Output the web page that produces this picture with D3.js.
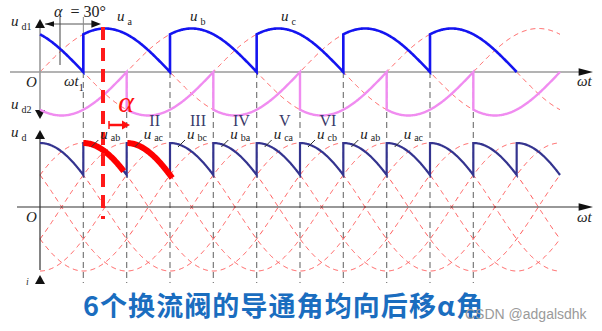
<!DOCTYPE html>
<html><head><meta charset="utf-8">
<script src="https://cdn.jsdelivr.net/npm/d3@7"></script>
<style>body{margin:0;background:#fff}svg{display:block}</style>
</head><body>
<script>
// ---- data (angles in degrees, values normalised to peak = 1) ----
const thetaDomain = [0, 720];
const alphaDeg = 30;
// phase voltages u_a, u_b, u_c : phase shift of each sinusoid
const phaseNames = ["a", "b", "c"];
const phaseShifts = [0, -120, 120];
// line voltages : phase shift of each sinusoid
const lineNames = ["ab", "ac", "bc", "ba", "ca", "cb"];
const lineShifts = [30, -30, -90, -150, 150, 90];
// positive group u_d1 : conducting phase and interval
const posOrder = ["c", "a", "b", "c", "a", "b"];
const posStart = [0, 60, 180, 300, 420, 540];
const posEnd   = [60, 180, 300, 420, 540, 660];
// negative group u_d2
const negOrder = ["b", "c", "a", "b", "c", "a"];
const negStart = [0, 120, 240, 360, 480, 600];
const negEnd   = [120, 240, 360, 480, 600, 720];
// bridge output u_d
const udOrder = ["cb","ab","ac","bc","ba","ca","cb","ab","ac","bc","ba","ca"];
const udStart = [0,60,120,180,240,300,360,420,480,540,600,660];
const udEnd   = [60,120,180,240,300,360,420,480,540,600,660,720];
// commutation instants (dashed guides)
const guideAngles = [60,120,180,240,300,360,420,480,540,600];
// highlighted (shifted) conduction arcs
const hiOrder = ["ab", "ac"];
const hiStart = [60, 121];
const hiEnd   = [116, 183];
// segment labels in the u_d panel
const segLabelSub   = ["ab","ac","bc","ba","ca","cb","ab","ac"];
const segLabelAngle = [60,120,180,240,300,360,420,480];
const romanNums   = ["II","III","IV","V","VI"];
const romanAngles = [120,180,240,300,360];
// top labels
const topLabelSub = ["a","b","c"];
const topLabelX   = [117,190,281];
const title = "6个换流阀的导通角均向后移α角";
const watermark = "CSDN @adgalsdhk";

// ---- drawing ----
const W = 602, H = 331;
const svg = d3.select("body").append("svg").attr("width", W).attr("height", H);
const rad = d => d * Math.PI / 180;
const x = d3.scaleLinear().domain(thetaDomain).range([40, 560]);
const yT = d3.scaleLinear().domain([-1, 1]).range([115.5, 28.5]);
const yB = d3.scaleLinear().domain([-1, 1]).range([271, 143]);
const phaseShift = Object.fromEntries(phaseNames.map((n, i) => [n, phaseShifts[i]]));
const lineShift = Object.fromEntries(lineNames.map((n, i) => [n, lineShifts[i]]));
const samples = (a, b) => { const s = d3.range(a, b, 1); s.push(b); return s; };
const line = d3.line();

function segPath(order, starts, ends, shiftMap, ys) {
  const pts = [];
  order.forEach((n, i) => {
    samples(starts[i], ends[i]).forEach(t => pts.push([x(t), ys(Math.sin(rad(t + shiftMap[n])))]));
  });
  return line(pts);
}

// red dashed reference sinusoids
phaseNames.forEach(n => {
  svg.append("path").attr("d", line(samples(0, 720).map(t => [x(t), yT(Math.sin(rad(t + phaseShift[n])))])))
    .attr("fill", "none").attr("stroke", "#ff5a5a").attr("stroke-width", 1).attr("stroke-dasharray", "5,4");
});
lineNames.forEach(n => {
  svg.append("path").attr("d", line(samples(0, 720).map(t => [x(t), yB(Math.sin(rad(t + lineShift[n])))])))
    .attr("fill", "none").attr("stroke", "#ff5a5a").attr("stroke-width", 1).attr("stroke-dasharray", "5,4");
});

// dashed guides
svg.selectAll(".guide").data(guideAngles).enter().append("line")
  .attr("x1", d => x(d)).attr("x2", d => x(d)).attr("y1", yT(0)).attr("y2", 283)
  .attr("stroke", "#7a7a7a").attr("stroke-width", 1.2).attr("stroke-dasharray", "6,4");

// axes
const tri = (cx, cy, dir, s = 5, h = 9) => {
  if (dir === "up") return `M${cx},${cy} L${cx - s},${cy + h} L${cx + s},${cy + h}Z`;
  if (dir === "down") return `M${cx},${cy} L${cx - s},${cy - h} L${cx + s},${cy - h}Z`;
  if (dir === "right") return `M${cx},${cy} L${cx - h * 1.6},${cy - s * 0.75} L${cx - h * 1.6},${cy + s * 0.75}Z`;
  return `M${cx},${cy} L${cx + h},${cy - s * 0.7} L${cx + h},${cy + s * 0.7}Z`;
};
// top
svg.append("line").attr("x1", 10).attr("x2", 580).attr("y1", yT(0)).attr("y2", yT(0)).attr("stroke", "#9a9a9a").attr("stroke-width", 1.6);
svg.append("path").attr("d", tri(593, yT(0), "right")).attr("fill", "#111");
svg.append("line").attr("x1", 40).attr("x2", 40).attr("y1", 24).attr("y2", 112).attr("stroke", "#9a9a9a").attr("stroke-width", 1.6);
svg.append("path").attr("d", tri(40, 19, "up")).attr("fill", "#111");
svg.append("path").attr("d", tri(40, 119, "down")).attr("fill", "#111");
// bottom
svg.append("line").attr("x1", 17).attr("x2", 580).attr("y1", yB(0)).attr("y2", yB(0)).attr("stroke", "#333").attr("stroke-width", 1.2);
svg.append("path").attr("d", tri(593, yB(0), "right")).attr("fill", "#111");
svg.append("line").attr("x1", 40).attr("x2", 40).attr("y1", 134).attr("y2", 270).attr("stroke", "#333").attr("stroke-width", 1.2);
svg.append("path").attr("d", tri(40, 130, "up")).attr("fill", "#111");
svg.append("path").attr("d", tri(40, 275, "up")).attr("fill", "#111");

// dimension for alpha
svg.append("line").attr("x1", 45).attr("x2", 96).attr("y1", 24).attr("y2", 24).attr("stroke", "#555").attr("stroke-width", 1);
svg.append("path").attr("d", tri(45, 24, "left", 4, 9)).attr("fill", "#111");
svg.append("path").attr("d", tri(101, 24, "right", 5, 6)).attr("fill", "#111");
svg.append("line").attr("x1", 60).attr("x2", 60).attr("y1", 17).attr("y2", 65).attr("stroke", "#444").attr("stroke-width", 1);
svg.append("line").attr("x1", x(60)).attr("x2", x(60)).attr("y1", 17).attr("y2", 36).attr("stroke", "#888").attr("stroke-width", 1);

// outputs
svg.append("path").attr("d", segPath(negOrder, negStart, negEnd, phaseShift, yT))
  .attr("fill", "none").attr("stroke", "#f08cf0").attr("stroke-width", 2.4);
svg.append("path").attr("d", segPath(posOrder, posStart, posEnd, phaseShift, yT))
  .attr("fill", "none").attr("stroke", "#1414f0").attr("stroke-width", 2.6);
svg.append("path").attr("d", segPath(udOrder, udStart, udEnd, lineShift, yB))
  .attr("fill", "none").attr("stroke", "#34348f").attr("stroke-width", 2.2);

// highlighted arcs
hiOrder.forEach((n, i) => {
  svg.append("path").attr("d", segPath([n], [hiStart[i]], [hiEnd[i]], lineShift, yB))
    .attr("fill", "none").attr("stroke", "#ff0000").attr("stroke-width", 6);
});

// red dashed firing line
svg.append("line").attr("x1", 103).attr("x2", 103).attr("y1", 27).attr("y2", 219)
  .attr("stroke", "#ff1a1a").attr("stroke-width", 4).attr("stroke-dasharray", "13,8");

// alpha annotation
svg.append("text").attr("x", 126).attr("y", 112).attr("text-anchor", "middle")
  .attr("font-family", "Liberation Serif, DejaVu Serif, serif").attr("font-style", "italic")
  .attr("font-size", 30).attr("fill", "#ff1010").text("α");
svg.append("line").attr("x1", 109).attr("x2", 122).attr("y1", 125).attr("y2", 125).attr("stroke", "#ff1010").attr("stroke-width", 2.5);
svg.append("path").attr("d", tri(130, 125, "right", 6, 5)).attr("fill", "#ff1010");
svg.append("line").attr("x1", 109).attr("x2", 109).attr("y1", 121).attr("y2", 129).attr("stroke", "#ff1010").attr("stroke-width", 1.5);

// text helpers
const serif = "Liberation Serif, DejaVu Serif, serif";
function uLabel(xp, yp, sub, color = "#222", size = 15, subSize = 10, dy = 4) {
  const t = svg.append("text").attr("x", xp).attr("y", yp).attr("font-family", serif).attr("fill", color);
  t.append("tspan").attr("font-style", "italic").attr("font-size", size).text("u");
  t.append("tspan").attr("font-size", subSize).attr("dx", 3).attr("dy", dy).text(sub);
}
uLabel(11, 26, "d1");
uLabel(11, 109, "d2");
uLabel(11, 137, "d");
topLabelSub.forEach((s, i) => uLabel(topLabelX[i], 21, s));
svg.append("text").attr("x", 26).attr("y", 87).attr("font-family", serif).attr("font-style", "italic").attr("font-size", 15).attr("fill", "#222").text("O");
svg.append("text").attr("x", 26).attr("y", 222).attr("font-family", serif).attr("font-style", "italic").attr("font-size", 15).attr("fill", "#222").text("O");
const wt1 = svg.append("text").attr("x", 64).attr("y", 86).attr("font-family", serif).attr("font-size", 15).attr("fill", "#222");
wt1.append("tspan").attr("font-style", "italic").text("ωt");
wt1.append("tspan").attr("font-size", 10).attr("dy", 5).text("1");
svg.append("text").attr("x", 577).attr("y", 86).attr("font-family", serif).attr("font-style", "italic").attr("font-size", 15).attr("fill", "#222").text("ωt");
svg.append("text").attr("x", 577).attr("y", 222).attr("font-family", serif).attr("font-style", "italic").attr("font-size", 15).attr("fill", "#222").text("ωt");
svg.append("text").attr("x", 26).attr("y", 285).attr("font-family", serif).attr("font-style", "italic").attr("font-size", 10).attr("fill", "#333").text("i");
// alpha = 30°
const at = svg.append("text").attr("x", 54).attr("y", 17).attr("font-family", serif).attr("font-size", 16).attr("fill", "#222");
at.append("tspan").attr("font-style", "italic").text("α");
at.append("tspan").attr("dx", 8).text("= " + alphaDeg + "°");

// segment labels with leaders
segLabelAngle.forEach((a, i) => {
  const sx = x(a);
  svg.append("line").attr("x1", sx + 15).attr("y1", 140).attr("x2", sx + 8).attr("y2", 147).attr("stroke", "#333").attr("stroke-width", 1);
  uLabel(sx + 17, 139, segLabelSub[i], "#222", 15, 10, 2);
});
romanNums.forEach((r, i) => {
  svg.append("text").attr("x", x(romanAngles[i]) + 28).attr("y", 126).attr("text-anchor", "middle")
    .attr("font-family", serif).attr("font-size", 16).attr("fill", "#3a3a6a").text(r);
});

// title & watermark
svg.append("text").attr("x", 83).attr("y", 316).attr("font-family", "Noto Sans CJK SC, sans-serif")
  .attr("font-weight", 700).attr("font-size", 27).attr("fill", "#1a6dbf")
  .attr("textLength", 400).attr("lengthAdjust", "spacing").text(title);
svg.append("text").attr("x", 465).attr("y", 319).attr("font-family", "Liberation Sans, Arial, sans-serif")
  .attr("font-size", 14).attr("fill", "#9a9a9a").text(watermark);
</script>
</body></html>
